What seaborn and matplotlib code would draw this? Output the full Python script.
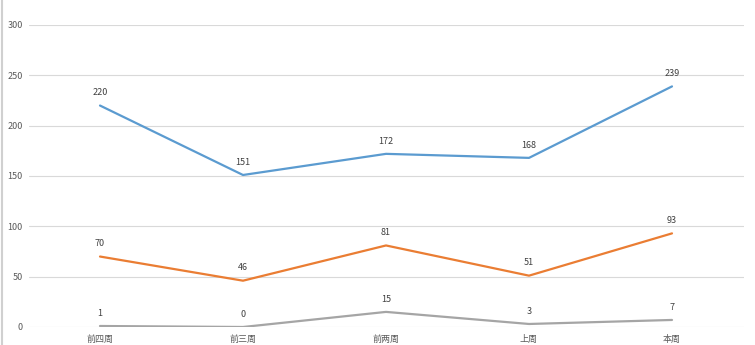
import matplotlib
matplotlib.use("Agg")
import matplotlib.pyplot as plt
import seaborn as sns
import pandas as pd

categories = ["前四周", "前三周", "前两周", "上周", "本周"]
series_a = [220, 151, 172, 168, 239]
series_b = [70, 46, 81, 51, 93]
series_c = [1, 0, 15, 3, 7]
y_ticks = [0, 50, 100, 150, 200, 250, 300]

colors = ["#5b9bd0", "#ea7d33", "#a5a5a5"]

sns.set_theme(style="white")
plt.rcParams['font.family'] = ['Noto Sans CJK SC', 'DejaVu Sans']

rows = []
for name, vals in [("A", series_a), ("B", series_b), ("C", series_c)]:
    for i, (c, v) in enumerate(zip(categories, vals)):
        rows.append({"pos": i, "cat": c, "value": v, "series": name})
df = pd.DataFrame(rows)

fig = plt.figure(figsize=(7.55, 3.45), dpi=100)
ax = fig.add_axes([28.5 / 755, 18 / 345, 715 / 755, 302 / 345])

sns.lineplot(data=df, x="pos", y="value", hue="series", palette=colors,
             linewidth=1.6, ax=ax, legend=False, sort=False)

for vals in [series_a, series_b, series_c]:
    for i, v in enumerate(vals):
        ax.annotate(str(v), (i, v), xytext=(0, 6), textcoords="offset points",
                    ha="center", va="bottom", fontsize=6.5, color="#404040")

ax.set_xlim(-0.5, 4.5)
ax.set_ylim(0, 300)
ax.set_yticks(y_ticks)
ax.set_xticks(range(len(categories)))
ax.set_xticklabels(categories)
ax.yaxis.grid(True, color="#d9d9d9", linewidth=0.8)
ax.set_axisbelow(True)
for s in ax.spines.values():
    s.set_visible(False)
ax.tick_params(axis="both", length=0, labelsize=6.5, labelcolor="#595959")
ax.tick_params(axis="x", pad=6)
ax.tick_params(axis="y", pad=4)
ax.set_xlabel("")
ax.set_ylabel("")

fig.add_artist(plt.Line2D([1.5 / 755, 1.5 / 755], [0, 1], color="#d0d0d0", linewidth=1.5))

fig.savefig("out.png", dpi=100)
